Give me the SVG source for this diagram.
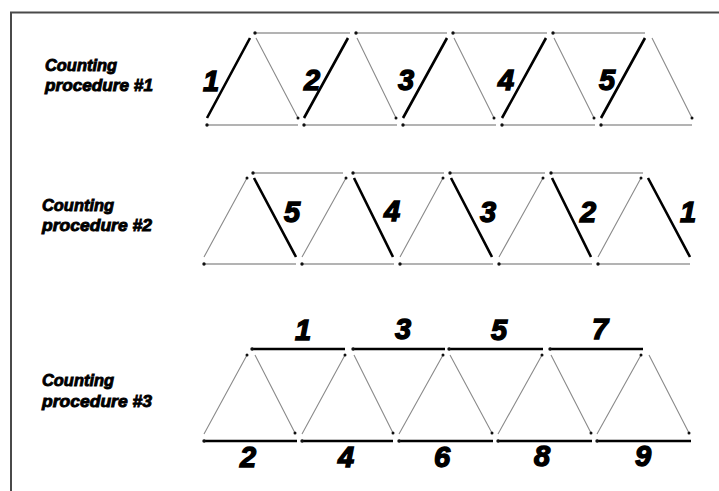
<svg xmlns="http://www.w3.org/2000/svg" width="719" height="491" viewBox="0 0 719 491">
<style>
.frame{fill:none;stroke:#4a4a4a;stroke-width:2}
.thin{stroke:#8a8a8a;stroke-width:1.1;fill:none}
.chord{stroke:#9a9a9a;stroke-width:1.4;fill:none}
.thick{stroke:#000;stroke-width:2.6;fill:none}
.dot{fill:#111}
.cap{font-family:"Liberation Sans",Arial,sans-serif;font-weight:bold;font-style:italic;font-size:17px;fill:#000;stroke:#000;stroke-width:0.9}
.num{font-family:"Liberation Sans",Arial,sans-serif;font-weight:bold;font-style:italic;font-size:29px;fill:#000;stroke:#000;stroke-width:1.4;text-anchor:middle}
</style>
<rect width="719" height="491" fill="#fff"/>
<path class="frame" d="M11,491 V12.5 H719"/>

<g id="label1"><text class="cap" x="45" y="71" textLength="72" lengthAdjust="spacingAndGlyphs">Counting</text><text class="cap" x="45" y="91" textLength="108" lengthAdjust="spacingAndGlyphs">procedure #1</text></g>
<g id="label2"><text class="cap" x="42" y="211" textLength="72" lengthAdjust="spacingAndGlyphs">Counting</text><text class="cap" x="42" y="231" textLength="110" lengthAdjust="spacingAndGlyphs">procedure #2</text></g>
<g id="label3"><text class="cap" x="42" y="386" textLength="72" lengthAdjust="spacingAndGlyphs">Counting</text><text class="cap" x="42" y="407" textLength="110" lengthAdjust="spacingAndGlyphs">procedure #3</text></g>

<g id="connectors">
<!-- Row 1 -->
<g id="row1">
<path class="chord" d="M255,33H350M356,33H447M453,33H547M553,33H645"/>
<path class="chord" d="M207,125H298M304,125H397M403,125H496M502,125H595M601,125H692"/>
<path class="thick" d="M207,118L250,38M304,118L348,38M403,118L447,38M502,118L546,38M601,118L645,38"/>
<path class="thin" d="M256,38L298,118M357,38L396,118M454,38L494,118M554,38L594,118M652,38L692,118"/>
<g class="dot">
<circle cx="255" cy="33" r="1.7"/><circle cx="356" cy="33" r="1.7"/><circle cx="453" cy="33" r="1.7"/><circle cx="553" cy="33" r="1.7"/>
<circle cx="207" cy="125" r="1.7"/><circle cx="304" cy="125" r="1.7"/><circle cx="403" cy="125" r="1.7"/><circle cx="502" cy="125" r="1.7"/><circle cx="601" cy="125" r="1.7"/>
<circle cx="298" cy="118" r="1.5"/><circle cx="396" cy="118" r="1.5"/><circle cx="494" cy="118" r="1.5"/><circle cx="594" cy="118" r="1.5"/><circle cx="692" cy="118" r="1.5"/>
</g>
</g>
<!-- Row 2 -->
<g id="row2">
<path class="chord" d="M253,173H343M353,173H444M450,173H545M551,173H643"/>
<path class="chord" d="M204,264H296M302,264H394M400,264H493M499,264H592M598,264H690"/>
<path class="thin" d="M204,257L247,178M302,257L346,178M400,257L443,178M499,257L543,178M598,257L641,178"/>
<path class="thick" d="M254,178L296,257M354,178L393,257M451,178L492,257M552,178L591,257M648,178L690,257"/>
<g class="dot">
<circle cx="253" cy="173" r="1.7"/><circle cx="353" cy="173" r="1.7"/><circle cx="450" cy="173" r="1.7"/><circle cx="551" cy="173" r="1.7"/>
<circle cx="204" cy="264" r="1.7"/><circle cx="302" cy="264" r="1.7"/><circle cx="400" cy="264" r="1.7"/><circle cx="499" cy="264" r="1.7"/><circle cx="598" cy="264" r="1.7"/>
<circle cx="247" cy="178" r="1.5"/><circle cx="346" cy="178" r="1.5"/><circle cx="443" cy="178" r="1.5"/><circle cx="543" cy="178" r="1.5"/><circle cx="641" cy="178" r="1.5"/>
</g>
</g>
<!-- Row 3 -->
<g id="row3">
<path class="thick" d="M252,349H345M353,349H445M449,349H543M550,349H643"/>
<path class="thick" d="M204,441H297M302,441H393M399,441H493M498,441H592M597,441H691"/>
<path class="thin" d="M204,434L247,355M302,434L345,355M399,434L443,355M498,434L542,355M597,434L641,355"/>
<path class="thin" d="M255,355L295,433M354,355L393,433M450,355L492,433M551,355L591,433M649,355L689,433"/>
<g class="dot">
<circle cx="252" cy="349" r="1.7"/><circle cx="353" cy="349" r="1.7"/><circle cx="449" cy="349" r="1.7"/><circle cx="550" cy="349" r="1.7"/>
<circle cx="204" cy="441" r="1.7"/><circle cx="302" cy="441" r="1.7"/><circle cx="399" cy="441" r="1.7"/><circle cx="498" cy="441" r="1.7"/><circle cx="597" cy="441" r="1.7"/>
<circle cx="247" cy="355" r="1.5"/><circle cx="345" cy="355" r="1.5"/><circle cx="443" cy="355" r="1.5"/><circle cx="542" cy="355" r="1.5"/><circle cx="641" cy="355" r="1.5"/>
<circle cx="295" cy="433" r="1.5"/><circle cx="393" cy="433" r="1.5"/><circle cx="492" cy="433" r="1.5"/><circle cx="591" cy="433" r="1.5"/><circle cx="689" cy="433" r="1.5"/>
</g>
</g>
</g>

<g id="numbers1">
<text class="num" x="211" y="91">1</text><text class="num" x="312" y="90">2</text><text class="num" x="406" y="90">3</text><text class="num" x="506" y="90">4</text><text class="num" x="607" y="90">5</text>
</g>
<g id="numbers2">
<text class="num" x="292" y="222">5</text><text class="num" x="392" y="221">4</text><text class="num" x="488" y="222">3</text><text class="num" x="588" y="222">2</text><text class="num" x="688" y="222">1</text>
</g>
<g id="numbers3">
<text class="num" x="303" y="340">1</text><text class="num" x="403" y="339">3</text><text class="num" x="499" y="340">5</text><text class="num" x="600" y="339">7</text>
<text class="num" x="248" y="467">2</text><text class="num" x="346" y="467">4</text><text class="num" x="442" y="467">6</text><text class="num" x="542" y="466">8</text><text class="num" x="643" y="466">9</text>
</g>
</svg>
